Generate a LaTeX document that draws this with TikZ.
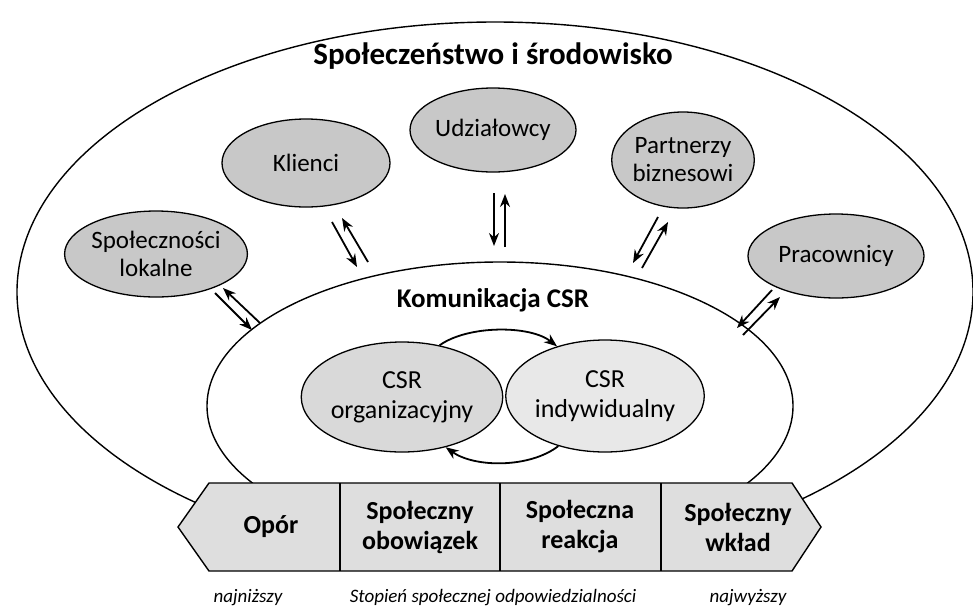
\documentclass[tikz,border=0pt]{standalone}
\usepackage{fontspec}
\setmainfont{Carlito}
\usetikzlibrary{shapes.geometric,arrows.meta}
\definecolor{ellfill}{HTML}{C8C8C8}
\definecolor{orgfill}{HTML}{D9D9D9}
\definecolor{indfill}{HTML}{E8E8E8}
\definecolor{barfill}{HTML}{DEDEDE}
\begin{document}
\begin{tikzpicture}[x=1pt,y=-1pt,
  big/.style={draw,line width=1.4pt},
  stake/.style={ellipse,draw,line width=1.3pt,fill=ellfill,inner sep=0pt,align=center,font=\fontsize{25}{28}\selectfont},
  inner/.style={ellipse,draw,line width=1.3pt,inner sep=0pt,align=center,font=\fontsize{26}{30}\selectfont},
  arr/.style={line width=1.8pt,-{Stealth[length=13pt,width=10pt]}},
  cell/.style={align=center,font=\bfseries\fontsize{26}{30}\selectfont},
  foot/.style={font=\itshape\fontsize{19}{22}\selectfont}]
\useasboundingbox (0,0) rectangle (973,611);
% outer and inner ellipses
\draw[big] (495,292) ellipse [x radius=478, y radius=270];
\draw[big] (500,406) ellipse [x radius=293, y radius=144];
\node[font=\bfseries\fontsize{31}{35}\selectfont] (title) at (493,56) {Społeczeństwo i środowisko};
\node[font=\bfseries\fontsize{27}{31}\selectfont] (kom) at (493,300) {Komunikacja CSR};
% stakeholders
\node[stake,minimum width=172pt,minimum height=86pt] (lok) at (156,254) {Społeczności\\lokalne};
\node[stake,minimum width=168pt,minimum height=88pt] (kli) at (306,163) {Klienci};
\node[stake,minimum width=166pt,minimum height=84pt] (udz) at (493,130) {Udziałowcy};
\node[stake,minimum width=141pt,minimum height=96pt] (par) at (683,160) {Partnerzy\\biznesowi};
\node[stake,minimum width=176pt,minimum height=84pt] (pra) at (836,256) {Pracownicy};
% CSR nodes
\node[inner,fill=orgfill,minimum width=190pt,minimum height=110pt] (org) at (402,397) {CSR\\organizacyjny};
\node[inner,fill=indfill,minimum width=186pt,minimum height=112pt] (ind) at (605,396) {CSR\\indywidualny};
\draw[arr] (org.54) .. controls (468,325) and (530,325) .. (ind.134);
\draw[arr] (ind.227) .. controls (530,468) and (475,468) .. (org.-49);
% arrow pairs
\coordinate (l1) at (215,293); \coordinate (l2) at (252,330);
\coordinate (l3) at (260,323); \coordinate (l4) at (223,288);
\draw[arr] (l1) -- (l2); \draw[arr] (l3) -- (l4);
\coordinate (k1) at (332,222); \coordinate (k2) at (357,267);
\coordinate (k3) at (368,262); \coordinate (k4) at (342,218);
\draw[arr] (k1) -- (k2); \draw[arr] (k3) -- (k4);
\coordinate (u1) at (494,193); \coordinate (u2) at (494,246);
\coordinate (u3) at (505,247); \coordinate (u4) at (505,194);
\draw[arr] (u1) -- (u2); \draw[arr] (u3) -- (u4);
\coordinate (p1) at (658,217); \coordinate (p2) at (633,263);
\coordinate (p3) at (642,268); \coordinate (p4) at (668,222);
\draw[arr] (p1) -- (p2); \draw[arr] (p3) -- (p4);
\coordinate (w1) at (772,290); \coordinate (w2) at (737,328);
\coordinate (w3) at (743,335); \coordinate (w4) at (780,297);
\draw[arr] (w1) -- (w2); \draw[arr] (w3) -- (w4);
% bar
\draw[line width=1.4pt,fill=barfill,line join=miter]
  (178,527) -- (209,483) -- (792,483) -- (821,527) -- (792,571) -- (209,571) -- cycle;
\draw[line width=1.4pt] (340,483) -- (340,571) (500,483) -- (500,571) (661,483) -- (661,571);
\node[cell] (opor) at (271,527) {Opór};
\node[cell] (obo) at (420,527) {Społeczny\\obowiązek};
\node[cell] (rea) at (580,527) {Społeczna\\reakcja};
\node[cell] (wkl) at (738,527) {Społeczny\\wkład};
% footer
\node[foot] (low) at (248,598) {najniższy};
\node[foot] (mid) at (493,598) {Stopień społecznej odpowiedzialności};
\node[foot] (high) at (748,598) {najwyższy};
\end{tikzpicture}
\end{document}
